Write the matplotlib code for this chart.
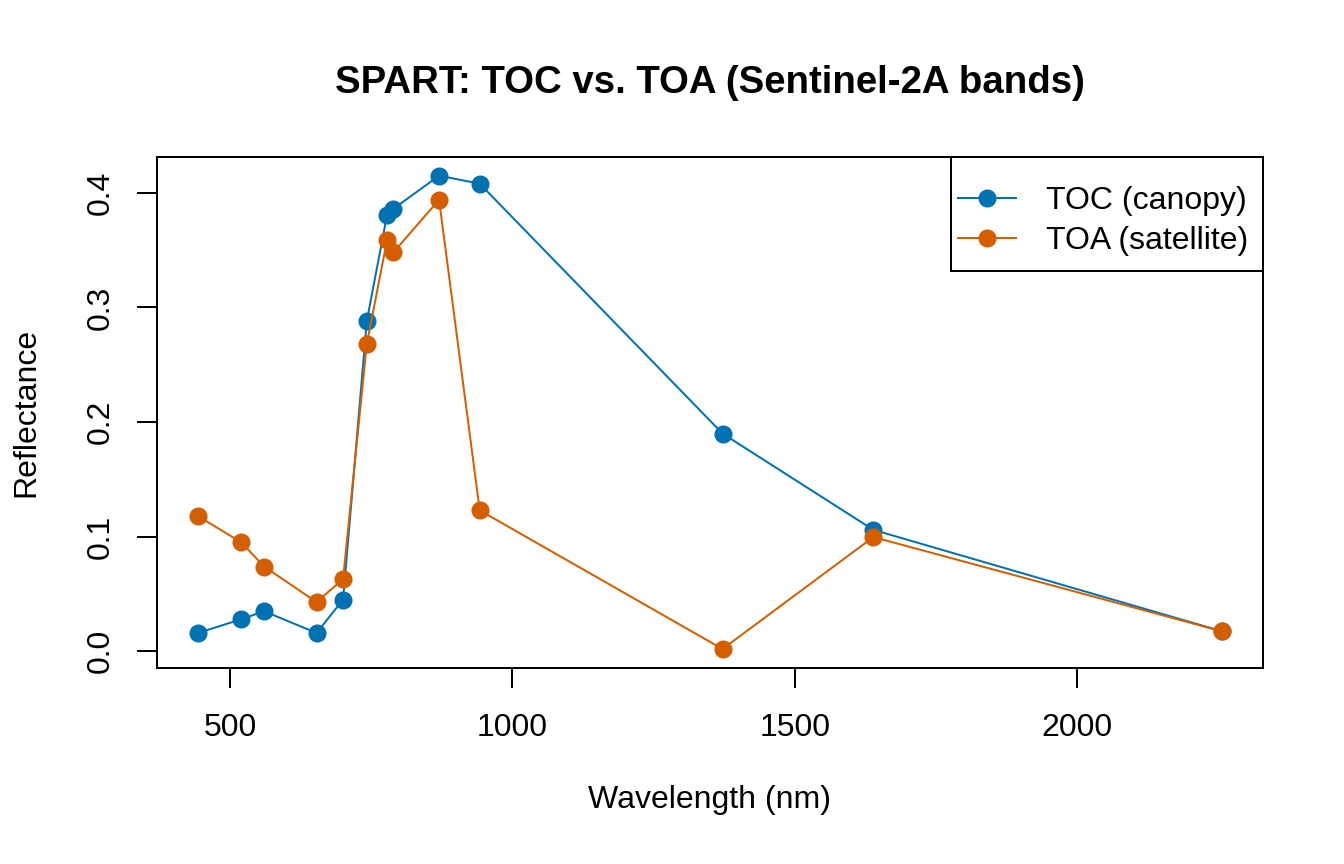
import matplotlib
matplotlib.use('Agg')
import matplotlib.pyplot as plt
from matplotlib.patches import Rectangle

plt.rcParams['font.family'] = ['Liberation Sans', 'DejaVu Sans']

# band centres (nm)
wavelength = [443, 520, 560, 653, 700, 742, 778, 789, 870, 942, 1372, 1639, 2256]
toc = [0.016, 0.028, 0.035, 0.016, 0.045, 0.288, 0.381, 0.386, 0.415, 0.408, 0.190, 0.106, 0.0175]
toa = [0.118, 0.095, 0.074, 0.043, 0.063, 0.268, 0.359, 0.348, 0.394, 0.123, 0.002, 0.0997, 0.0175]

blue = '#0072B2'
orange = '#D55E00'

fig = plt.figure(figsize=(13.44, 8.64), dpi=100)
ax = fig.add_axes([0.1168, 0.2269, 0.9395 - 0.1168, 0.8186 - 0.2269])

ax.plot(wavelength, toc, marker='o', markersize=12, lw=1.44, color=blue, label='TOC (canopy)')
ax.plot(wavelength, toa, marker='o', markersize=12, lw=1.44, color=orange, label='TOA (satellite)')

ax.margins(x=0.04, y=0.04)
ax.set_xticks([500, 1000, 1500, 2000])
ax.set_yticks([0.0, 0.1, 0.2, 0.3, 0.4])
ax.set_yticklabels(['0.0', '0.1', '0.2', '0.3', '0.4'], rotation=90, va='center')
ax.tick_params(axis='x', labelsize=23, length=14.4, width=1.44, pad=18)
ax.tick_params(axis='y', labelsize=23, length=14.4, width=1.44, pad=15)

for s in ax.spines.values():
    s.set_linewidth(1.44)

ax.set_title('SPART: TOC vs. TOA (Sentinel-2A bands)', fontsize=27.6, fontweight='bold', pad=46)
ax.set_xlabel('Wavelength (nm)', fontsize=23, labelpad=30)
ax.set_ylabel('Reflectance', fontsize=23, labelpad=32)

# R-style legend box: drawn by hand so the padding can be uneven
ax.add_patch(Rectangle((0.718, 0.7765), 0.282, 0.2235, transform=ax.transAxes,
                       facecolor='white', edgecolor='black', lw=1.44, zorder=4, clip_on=False))
leg = ax.legend(loc='upper right', bbox_to_anchor=(0.9868, 0.943), borderaxespad=0, borderpad=0,
                fontsize=23, frameon=False, handlelength=1.8, handletextpad=0.94,
                labelspacing=0.32)
leg.set_zorder(5)

plt.savefig('out.png', dpi=100)
